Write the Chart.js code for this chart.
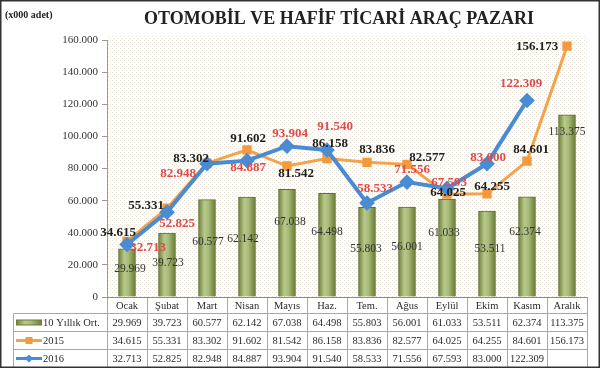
<!DOCTYPE html>
<html>
<head>
<meta charset="utf-8">
<script src="https://cdn.jsdelivr.net/npm/chart.js@4.4.1/dist/chart.umd.min.js"></script>
<style>
  html, body { margin: 0; padding: 0; background: #fff; }
</style>
</head>
<body>
<canvas id="chart-area" width="600" height="368"></canvas>
<script>
// data (adet)
var months = ['Ocak', 'Şubat', 'Mart', 'Nisan', 'Mayıs', 'Haz.', 'Tem.', 'Ağus', 'Eylül', 'Ekim', 'Kasım', 'Aralık'];
var avg10 = [29969, 39723, 60577, 62142, 67038, 64498, 55803, 56001, 61033, 53511, 62374, 113375];
var sales2015 = [34615, 55331, 83302, 91602, 81542, 86158, 83836, 82577, 64025, 64255, 84601, 156173];
var sales2016 = [32713, 52825, 82948, 84887, 93904, 91540, 58533, 71556, 67593, 83000, 122309, null];
var seriesNames = ['10 Yıllık Ort.', '2015', '2016'];
var yMax = 160000, yStep = 20000;

// label nudges in px (dx, dy) from the mark
var avgLabelOff = [[3,20],[1,30],[1,42],[-4,42],[3,33],[0,39],[-1,42],[0,40],[-3,34],[3,38],[-2,35],[0,17]];
var off2015 = [[-9,-9],[-21,-2],[-16,-5],[1,-11],[9,8],[3,-15],[10,-13],[20,-7],[1,-2],[5,-7],[4,-11],[-30,0]];
var off2016 = [[21,3],[10,11],[-29,10],[1,7],[3,-13],[8,-23],[8,-14],[5,-12],[2,-6],[1,-6],[-6,-17],[0,0]];

var SERIF = '"Liberation Serif", "DejaVu Serif", serif';
var ORANGE = '#f5a24b';
var BLUE = '#4a8cd4';
var RED = '#e04a4a';

function fmt(v) {
  return String(v).replace(/\B(?=(\d{3})+(?!\d))/g, '.');
}

function barGradient(ctx, x0, x1) {
  var g = ctx.createLinearGradient(x0, 0, x1, 0);
  g.addColorStop(0, '#6f8138');
  g.addColorStop(0.35, '#b8c98c');
  g.addColorStop(0.6, '#a5b977');
  g.addColorStop(1, '#687a31');
  return g;
}

// dotted background tile
var tile = document.createElement('canvas');
tile.width = 4; tile.height = 4;
var tctx = tile.getContext('2d');
tctx.fillStyle = '#ffffff';
tctx.fillRect(0, 0, 4, 4);
tctx.fillStyle = '#e8e3d6';
tctx.fillRect(0, 0, 1, 1);
tctx.fillRect(2, 2, 1, 1);

var backPlugin = {
  id: 'back',
  beforeDraw: function(chart) {
    var c = chart.ctx, a = chart.chartArea;
    c.save();
    c.fillStyle = '#fff';
    c.fillRect(0, 0, chart.width, chart.height);
    c.fillStyle = c.createPattern(tile, 'repeat');
    c.fillRect(a.left, a.top - 4, a.right - a.left, a.bottom - a.top + 4);
    c.restore();
  }
};

var labelPlugin = {
  id: 'labels',
  afterDatasetsDraw: function(chart) {
    var c = chart.ctx;
    c.save();
    c.textAlign = 'center';
    c.textBaseline = 'middle';
    var sets = [
      { i: 0, vals: avg10, off: avgLabelOff, font: '11.5px ' + SERIF, color: '#333' },
      { i: 1, vals: sales2015, off: off2015, font: 'bold 13px ' + SERIF, color: '#1e1e1e' },
      { i: 2, vals: sales2016, off: off2016, font: 'bold 13px ' + SERIF, color: RED }
    ];
    sets.forEach(function(s) {
      var meta = chart.getDatasetMeta(s.i);
      c.font = s.font;
      c.fillStyle = s.color;
      meta.data.forEach(function(el, j) {
        if (s.vals[j] == null) return;
        c.fillText(fmt(s.vals[j]), el.x + s.off[j][0], el.y + s.off[j][1]);
      });
    });
    c.restore();
  }
};

var tablePlugin = {
  id: 'table',
  afterDraw: function(chart) {
    var c = chart.ctx, a = chart.chartArea, xs = chart.scales.x;
    var colW = xs.getPixelForValue(1) - xs.getPixelForValue(0);
    var left = a.left, right = a.right, tabLeft = 13.5;
    var rowY = [a.bottom, 313.5, 331.5, 349.5, 367.5];
    c.save();
    // grid
    c.strokeStyle = '#a8a8a8';
    c.lineWidth = 1;
    c.beginPath();
    for (var i = 0; i <= months.length; i++) {
      var x = Math.round(left + colW * i) + 0.5;
      c.moveTo(x, a.bottom);
      c.lineTo(x, rowY[4]);
    }
    for (var r = 1; r < rowY.length; r++) {
      c.moveTo(tabLeft, rowY[r]);
      c.lineTo(right + 0.5, rowY[r]);
    }
    c.moveTo(tabLeft, rowY[1]);
    c.lineTo(tabLeft, rowY[4]);
    c.stroke();
    c.strokeStyle = '#8a8a8a';
    c.beginPath();
    c.moveTo(left, a.bottom + 0.5);
    c.lineTo(right, a.bottom + 0.5);
    c.stroke();

    // text
    c.font = '10.5px ' + SERIF;
    c.fillStyle = '#2a2a2a';
    c.textBaseline = 'middle';
    c.textAlign = 'center';
    var rows = [avg10, sales2015, sales2016];
    months.forEach(function(m, j) {
      var cx = xs.getPixelForValue(j);
      c.fillText(m, cx, 306);
      rows.forEach(function(vals, k) {
        if (vals[j] != null) c.fillText(fmt(vals[j]), cx, rowY[k + 1] + 9.5);
      });
    });

    // legend keys
    c.textAlign = 'left';
    seriesNames.forEach(function(n, k) {
      c.fillText(n, 43, rowY[k + 1] + 9.5);
    });
    var y1 = rowY[1] + 9;
    c.fillStyle = barGradient(c, 16, 42);
    c.fillRect(16, y1 - 2.5, 26, 5);
    c.strokeStyle = '#6d7d3a';
    c.strokeRect(16.5, y1 - 2.5, 25, 5);
    var y2 = rowY[2] + 9;
    c.strokeStyle = ORANGE; c.lineWidth = 3;
    c.beginPath(); c.moveTo(16, y2); c.lineTo(42, y2); c.stroke();
    c.fillStyle = '#f29a3c';
    c.fillRect(25.5, y2 - 3.5, 7, 7);
    var y3 = rowY[3] + 9;
    c.strokeStyle = BLUE;
    c.beginPath(); c.moveTo(16, y3); c.lineTo(42, y3); c.stroke();
    c.fillStyle = BLUE;
    c.beginPath();
    c.moveTo(29, y3 - 4); c.lineTo(33, y3); c.lineTo(29, y3 + 4); c.lineTo(25, y3);
    c.closePath(); c.fill();

    // titles
    c.fillStyle = '#222';
    c.font = 'bold 10px ' + SERIF;
    c.fillText('(x000 adet)', 5, 15);
    c.font = 'bold 18px ' + SERIF;
    c.textAlign = 'center';
    c.fillText('OTOMOBİL VE HAFİF TİCARİ ARAÇ PAZARI', 339, 19);

    // frame
    c.strokeStyle = '#333';
    c.lineWidth = 1.5;
    c.strokeRect(0.75, 0.75, chart.width - 1.5, chart.height - 1.5);
    c.restore();
  }
};

var config = {
  type: 'bar',
  data: {
    labels: months,
    datasets: [{
      label: seriesNames[0],
      data: avg10,
      order: 3,
      barThickness: 17,
      borderWidth: 1,
      borderColor: '#5f7030',
      backgroundColor: function(ctx) {
        var ch = ctx.chart;
        if (!ch.chartArea || !ch.scales.x) return '#a9bd7a';
        var x = ch.scales.x.getPixelForValue(ctx.dataIndex);
        return barGradient(ch.ctx, x - 8.5, x + 8.5);
      }
    }, {
      type: 'line',
      label: seriesNames[1],
      data: sales2015,
      order: 2,
      borderColor: ORANGE,
      borderWidth: 3,
      pointStyle: 'rect',
      pointRadius: 4.5,
      pointBackgroundColor: '#f29a3c',
      pointBorderColor: '#f29a3c',
      tension: 0
    }, {
      type: 'line',
      label: seriesNames[2],
      data: sales2016,
      order: 1,
      borderColor: BLUE,
      borderWidth: 4,
      pointStyle: 'rectRot',
      pointRadius: 5,
      pointBackgroundColor: BLUE,
      pointBorderColor: BLUE,
      tension: 0
    }]
  },
  options: {
    responsive: false,
    animation: false,
    layout: { padding: { top: 40, right: 13, bottom: 71, left: 0 } },
    plugins: {
      legend: { display: false },
      title: { display: false },
      tooltip: { enabled: false }
    },
    scales: {
      x: { display: false, offset: true },
      y: {
        min: 0,
        max: yMax,
        afterFit: function(scale) { scale.width = 107; },
        border: { color: '#9a9a9a' },
        grid: { drawOnChartArea: false, drawTicks: true, tickLength: 5, color: '#9a9a9a' },
        ticks: {
          stepSize: yStep,
          padding: 4,
          color: '#333',
          font: { family: SERIF, size: 11 },
          callback: function(v) { return fmt(v); }
        }
      }
    }
  },
  plugins: [backPlugin, labelPlugin, tablePlugin]
};

var ctx = document.getElementById('chart-area').getContext('2d');
window.myChart = new Chart(ctx, config);
</script>
</body>
</html>
